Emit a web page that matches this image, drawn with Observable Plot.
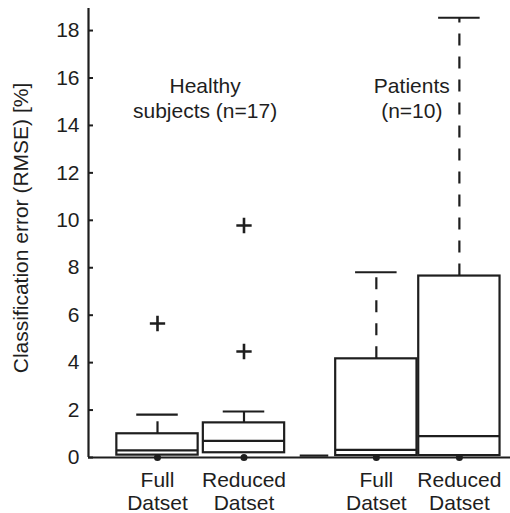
<!DOCTYPE html>
<html><head>
<meta charset="utf-8">
<script src="https://cdn.jsdelivr.net/npm/d3@7"></script>
<script src="https://cdn.jsdelivr.net/npm/@observablehq/plot@0.6"></script>
<style>body{margin:0;background:#fff;}</style>
</head><body><div id="chart"></div>
<script>
// categories and box statistics (values in %)
const categories = ["Full\nDatset", "Reduced\nDatset", "Full\nDatset", "Reduced\nDatset"];
const positions = [1, 2, 3.53, 4.49];
const q1 = [0.1, 0.2, 0.08, 0.08];
const medians = [0.3, 0.7, 0.32, 0.9];
const q3 = [1.0, 1.46, 4.16, 7.65];
const upperWhisker = [1.81, 1.94, 7.81, 18.54];
const lowValues = [0, 0, 0, 0];
const outlierPos = [1, 2, 2];
const outlierValues = [5.65, 9.78, 4.47];
const groupLabels = ["Healthy\nsubjects (n=17)", "Patients\n(n=10)"];
const groupLabelPos = [1.55, 3.94];
const groupLabelY = [16.1, 16.1];
const baselineSegX1 = [2.65];
const baselineSegX2 = [2.98];
const baselineSegY = [0.08];
const yTicks = [0, 2, 4, 6, 8, 10, 12, 14, 16, 18];
const yLabel = "Classification error (RMSE) [%]";

const xDomain = [0.2023, 5.081];
const yDomain = [0, 18.93];
const boxHalf = 0.47;
const capHalf = 0.24;
const idx = d3.range(categories.length);
const ink = "#1e1e1e";

const chart = Plot.plot({
  width: 510,
  height: 513,
  marginLeft: 88,
  marginRight: 0,
  marginTop: 8,
  marginBottom: 56,
  style: {fontFamily: "'Liberation Sans', Arial, sans-serif", fontSize: "21px", color: ink, background: "#fff"},
  x: {type: "linear", domain: xDomain, axis: null},
  y: {domain: yDomain, axis: null},
  marks: [
    // whiskers (dashed)
    Plot.ruleX(idx, {x: i => positions[i], y1: i => q3[i], y2: i => upperWhisker[i], stroke: ink, strokeWidth: 2.2, strokeDasharray: "12,11"}),
    // caps
    Plot.ruleY(idx, {y: i => upperWhisker[i], x1: i => positions[i] - capHalf, x2: i => positions[i] + capHalf, stroke: ink, strokeWidth: 2.2}),
    // boxes
    Plot.rect(idx, {x1: i => positions[i] - boxHalf, x2: i => positions[i] + boxHalf, y1: i => q1[i], y2: i => q3[i], fill: "white", stroke: ink, strokeWidth: 2.2}),
    // medians
    Plot.ruleY(idx, {y: i => medians[i], x1: i => positions[i] - boxHalf, x2: i => positions[i] + boxHalf, stroke: ink, strokeWidth: 2.2}),
    // baseline segment
    Plot.ruleY(d3.range(baselineSegY.length), {y: i => baselineSegY[i], x1: i => baselineSegX1[i], x2: i => baselineSegX2[i], stroke: ink, strokeWidth: 2.2}),
    // axis lines
    Plot.ruleY([yDomain[0]], {stroke: ink, strokeWidth: 2.2}),
    Plot.ruleX([xDomain[0]], {stroke: ink, strokeWidth: 2.2}),
    // low dots
    Plot.dot(idx, {x: i => positions[i], y: i => lowValues[i], r: 3.5, fill: ink, stroke: null}),
    // outliers
    Plot.dot(d3.range(outlierValues.length), {x: i => outlierPos[i], y: i => outlierValues[i], symbol: "plus", r: 5, stroke: ink, strokeWidth: 2.6}),
    // y axis
    Plot.axisY({ticks: yTicks, tickSize: -5, tickPadding: 14, strokeWidth: 2, label: null, fill: ink}),
    // y axis title
    Plot.text([yLabel], {frameAnchor: "left", rotate: -90, dx: -75, dy: -5, lineAnchor: "top", textAnchor: "middle", fill: ink}),
    // x category labels
    Plot.text(idx, {x: i => positions[i], y: 0, dy: 13, text: i => categories[i], lineAnchor: "top", lineHeight: 1.1, fill: ink}),
    // group labels
    Plot.text(d3.range(groupLabels.length), {x: i => groupLabelPos[i], y: i => groupLabelY[i], text: i => groupLabels[i], lineAnchor: "top", lineHeight: 1.19, fill: ink})
  ]
});
document.getElementById("chart").appendChild(chart);
</script>
</body></html>
